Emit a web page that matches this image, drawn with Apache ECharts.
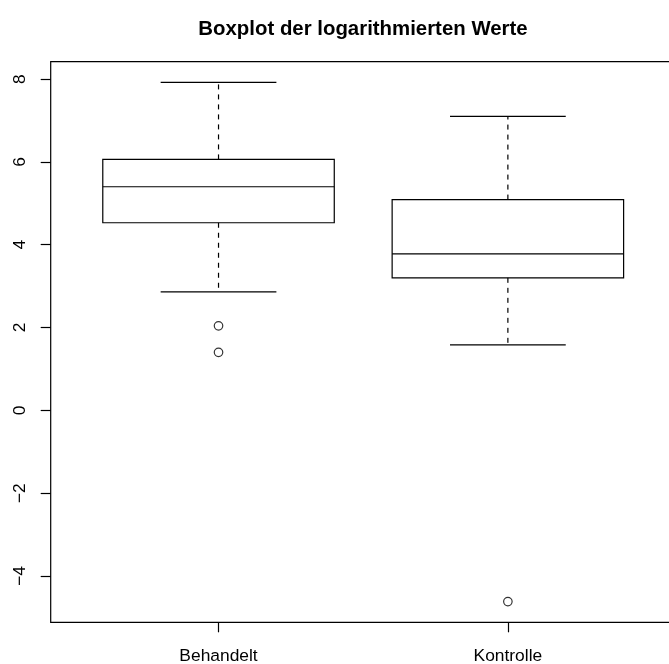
<!DOCTYPE html>
<html>
<head>
<meta charset="utf-8">
<script src="https://cdn.jsdelivr.net/npm/echarts@6/dist/echarts.min.js"></script>
<style>
  html, body { margin: 0; padding: 0; background: #fff; }
  #chart { width: 669px; height: 664px; }
</style>
</head>
<body>
<div id="chart"></div>
<script>
// Five-number summaries of the log values per group
const categories   = ['Behandelt', 'Kontrolle'];
const lowerWhisker = [2.86, 1.58];
const quartile1    = [4.53, 3.20];
const medians      = [5.40, 3.78];
const quartile3    = [6.06, 5.09];
const upperWhisker = [7.92, 7.10];
// Points beyond the whiskers: [group position, value]
const outliers     = [[1, 2.04], [1, 1.40], [2, -4.62]];
const yTicks       = [-4, -2, 0, 2, 4, 6, 8];

const boxData = categories.map((c, i) => [
  i + 1, lowerWhisker[i], quartile1[i], medians[i], quartile3[i], upperWhisker[i]
]);

const FONT = '"Liberation Sans", Arial, Helvetica, sans-serif';
const INK = '#000';

function renderBox(params, api) {
  const x = api.value(0);
  const lo = api.coord([x, api.value(1)]);
  const q1 = api.coord([x, api.value(2)]);
  const md = api.coord([x, api.value(3)]);
  const q3 = api.coord([x, api.value(4)]);
  const hi = api.coord([x, api.value(5)]);
  const halfBox = api.size([0.8, 0])[0] / 2;
  const halfCap = halfBox / 2;
  const cx = md[0];
  const solid = { stroke: INK, lineWidth: 1.2, fill: null };
  const dashed = { stroke: INK, lineWidth: 1.2, lineDash: [5, 5], fill: null };
  return {
    type: 'group',
    children: [
      { type: 'line', shape: { x1: cx, y1: q3[1], x2: cx, y2: hi[1] }, style: dashed },
      { type: 'line', shape: { x1: cx, y1: q1[1], x2: cx, y2: lo[1] }, style: dashed },
      { type: 'line', shape: { x1: cx - halfCap, y1: hi[1], x2: cx + halfCap, y2: hi[1] }, style: solid },
      { type: 'line', shape: { x1: cx - halfCap, y1: lo[1], x2: cx + halfCap, y2: lo[1] }, style: solid },
      { type: 'rect', shape: { x: cx - halfBox, y: q3[1], width: 2 * halfBox, height: q1[1] - q3[1] },
        style: { stroke: INK, lineWidth: 1.2, fill: null } },
      { type: 'line', shape: { x1: cx - halfBox, y1: md[1], x2: cx + halfBox, y2: md[1] }, style: solid }
    ]
  };
}

const chart = echarts.init(document.getElementById('chart'), null, { renderer: 'canvas' });
chart.setOption({
  backgroundColor: '#fff',
  animation: false,
  title: {
    text: 'Boxplot der logarithmierten Werte',
    left: 358,
    top: 14,
    textAlign: 'center',
    textStyle: { fontFamily: FONT, fontSize: 20.4, fontWeight: 'bold', color: INK }
  },
  grid: {
    left: 50.7, top: 61.7, width: 625, height: 560.6,
    outerBoundsMode: 'none',
    show: true, borderColor: INK, borderWidth: 1.2, backgroundColor: 'transparent'
  },
  xAxis: {
    type: 'value',
    min: 0.42, max: 2.58,
    axisLine: { show: false, onZero: false },
    splitLine: { show: false },
    axisTick: { show: true, length: 10, customValues: [1, 2], lineStyle: { color: INK, width: 1.2 } },
    axisLabel: {
      show: true, customValues: [1, 2], margin: 25,
      formatter: v => categories[Math.round(v) - 1] || '',
      fontFamily: FONT, fontSize: 17.4, color: INK
    }
  },
  yAxis: {
    type: 'value',
    min: -5.12, max: 8.42,
    axisLine: { show: false, onZero: false },
    splitLine: { show: false },
    axisTick: { show: true, length: 10, customValues: yTicks, lineStyle: { color: INK, width: 1.2 } },
    axisLabel: {
      show: true, customValues: yTicks, rotate: 90, margin: 22,
      formatter: v => (v < 0 ? '\u2212' + Math.abs(v) : String(v)),
      fontFamily: FONT, fontSize: 17.4, color: INK
    }
  },
  series: [
    {
      type: 'custom',
      renderItem: renderBox,
      data: boxData,
      encode: { x: 0, y: [1, 2, 3, 4, 5] },
      z: 3
    },
    {
      type: 'scatter',
      data: outliers,
      symbol: 'circle',
      symbolSize: 8.5,
      itemStyle: { color: 'transparent', borderColor: INK, borderWidth: 1.2 },
      z: 4
    }
  ]
});
</script>
</body>
</html>
